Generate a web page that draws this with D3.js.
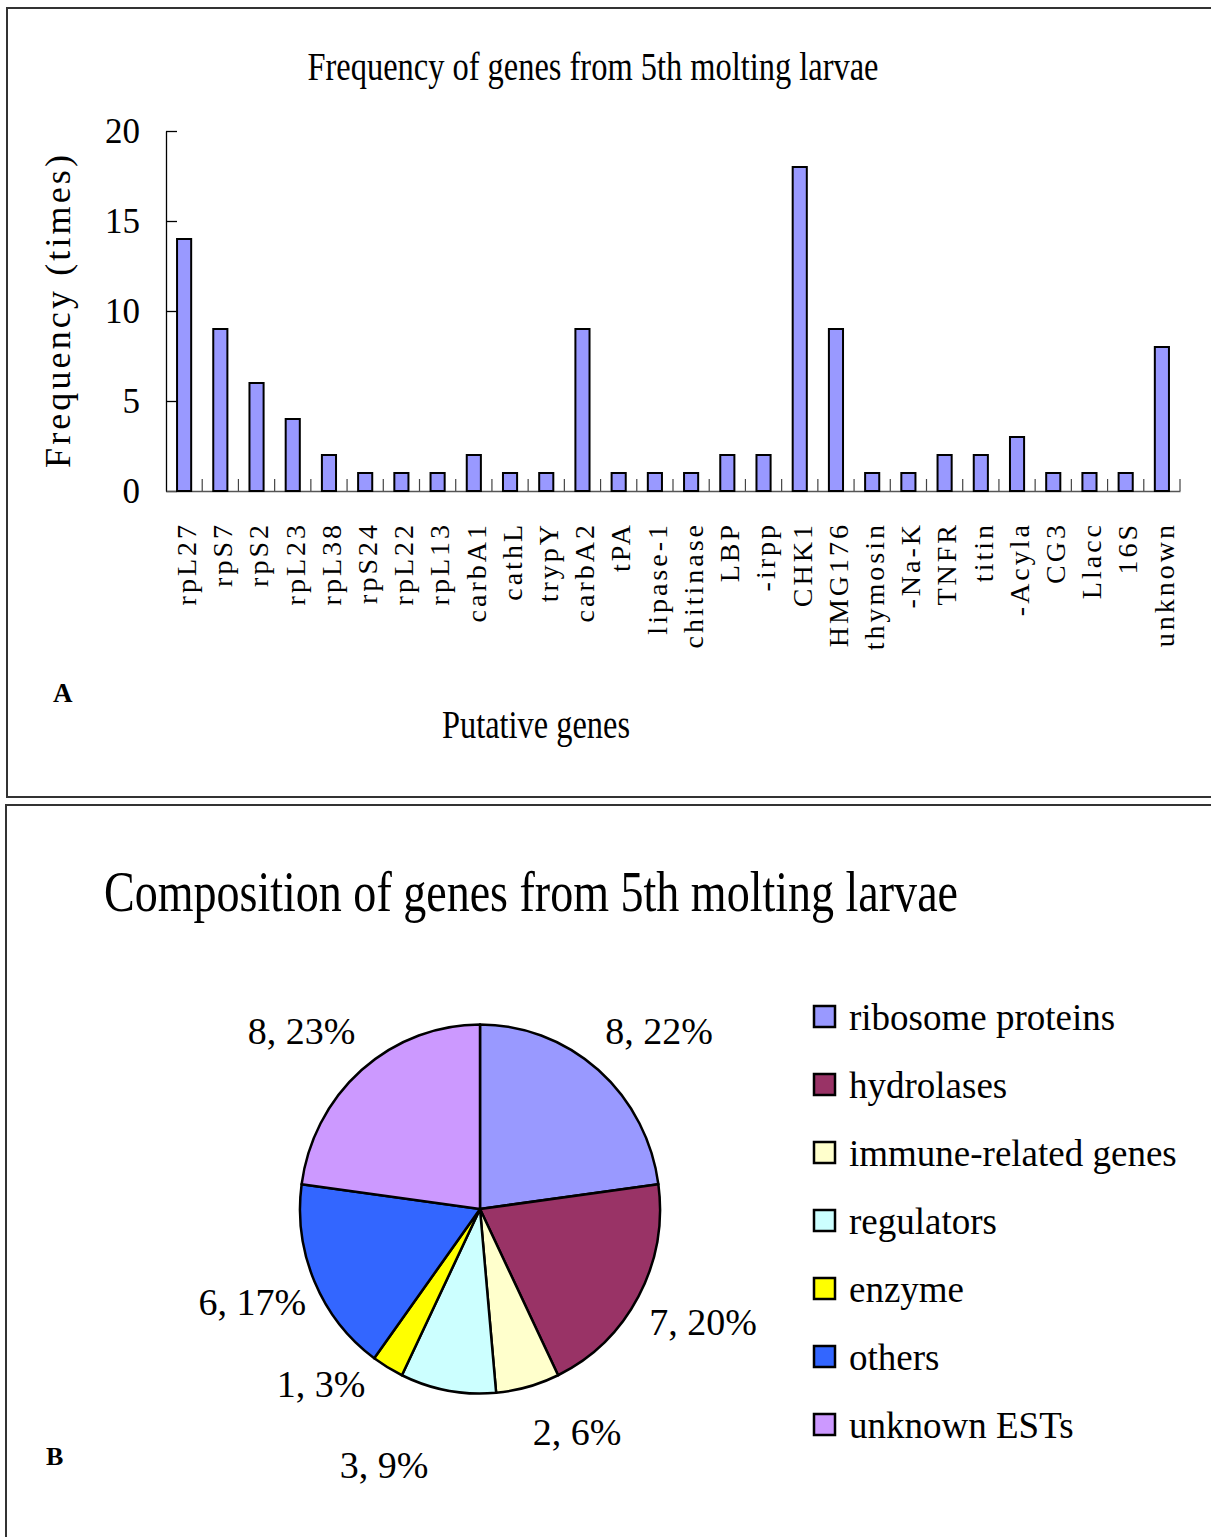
<!DOCTYPE html>
<html>
<head>
<meta charset="utf-8">
<script src="https://cdn.jsdelivr.net/npm/d3@7"></script>
<style>
  html, body { margin: 0; padding: 0; background: #fff; }
  svg { display: block; }
  text { font-family: "Liberation Serif", "Times New Roman", serif; fill: #000; }
</style>
</head>
<body>
<script>
// ---- Panel A: frequency of each putative gene ----
const genes = ["rpL27", "rpS7", "rpS2", "rpL23", "rpL38", "rpS24", "rpL22", "rpL13",
  "carbA1", "cathL", "trypY", "carbA2", "tPA", "lipase-1", "chitinase", "LBP", "-irpp",
  "CHK1", "HMG176", "thymosin", "-Na-K", "TNFR", "titin", "-Acyla", "CG3", "Llacc", "16S", "unknown"];
const geneLabels = ["rpL27", "rpS7", "rpS2", "rpL23", "rpL38", "rpS24", "rpL22", "rpL13",
  "carbA1", "cathL", "trypY", "carbA2", "tPA", "lipase-1", "chitinase", "LBP", "-irpp",
  "CHK1", "HMG176", "thymosin", "-Na-K", "TNFR", "titin", "-Acyla", "CG3", "Llacc", "16S", "unknown"];
const frequencies = [14, 9, 6, 4, 2, 1, 1, 1, 2, 1, 1, 9, 1, 1, 1, 2, 2, 18, 9, 1, 1, 2, 2, 3, 1, 1, 1, 8];
const yTickValues = [0, 5, 10, 15, 20];

// ---- Panel B: composition by functional group ----
const groups = ["ribosome proteins", "hydrolases", "immune-related genes", "regulators", "enzyme", "others", "unknown ESTs"];
const groupCounts = [8, 7, 2, 3, 1, 6, 8];
const groupLabels = ["8, 22%", "7, 20%", "2, 6%", "3, 9%", "1, 3%", "6, 17%", "8, 23%"];
const groupColors = ["#9999FF", "#993366", "#FFFFCC", "#CCFFFF", "#FFFF00", "#3366FF", "#CC99FF"];

const W = 1211, H = 1537;
const svg = d3.select("body").append("svg").attr("width", W).attr("height", H);

// panel frames
svg.append("path").attr("d", "M1211,8H7V797H1211")
  .attr("fill", "none").attr("stroke", "#333").attr("stroke-width", 2);
svg.append("path").attr("d", "M1211,805H6V1537")
  .attr("fill", "none").attr("stroke", "#333").attr("stroke-width", 2);

// ================= Panel A =================
const x = d3.scaleBand().domain(genes).range([166, 1180]).padding(0);
const y = d3.scaleLinear().domain([0, 20]).range([491, 131]);
const barW = x.bandwidth() * 0.39;

svg.append("text")
  .attr("x", 593).attr("y", 80)
  .attr("text-anchor", "middle")
  .attr("font-size", 40)
  .attr("textLength", 571).attr("lengthAdjust", "spacingAndGlyphs")
  .text("Frequency of genes from 5th molting larvae");

// y axis, ticks pointing inward
const yAxis = svg.append("g").attr("transform", `translate(${x.range()[0]},0)`)
  .call(d3.axisLeft(y).tickValues(yTickValues).tickSizeInner(-11).tickSizeOuter(0).tickPadding(26));
yAxis.selectAll("path.domain").attr("stroke", "#000").attr("stroke-width", 1.3);
yAxis.selectAll(".tick line").attr("stroke", "#000").attr("stroke-width", 1.3);
yAxis.selectAll("text")
  .attr("font-family", "'Liberation Serif', 'Times New Roman', serif")
  .attr("font-size", 35).attr("dy", "0.34em");

// x axis with rotated gene names
const xAxis = svg.append("g").attr("transform", `translate(0,${y(0)})`)
  .call(d3.axisBottom(x).tickSize(0).tickSizeOuter(0).tickFormat((d, i) => geneLabels[i]));
xAxis.selectAll("path.domain").attr("stroke", "#555").attr("stroke-width", 1.3);
xAxis.selectAll("text")
  .attr("font-family", "'Liberation Serif', 'Times New Roman', serif")
  .attr("font-size", 28)
  .attr("letter-spacing", "3px")
  .attr("transform", "rotate(-90)")
  .attr("text-anchor", "end")
  .attr("x", -31).attr("y", 2).attr("dy", "0.35em");

// category divider ticks along the baseline
svg.append("g").selectAll("line")
  .data(d3.range(1, genes.length + 1))
  .join("line")
  .attr("x1", i => x.range()[0] + i * x.step())
  .attr("x2", i => x.range()[0] + i * x.step())
  .attr("y1", y(0) - 12).attr("y2", y(0))
  .attr("stroke", "#444").attr("stroke-width", 1.2);

// bars
svg.append("g").selectAll("rect")
  .data(genes.map((g, i) => ({ g, v: frequencies[i] })))
  .join("rect")
  .attr("x", d => x(d.g) + (x.bandwidth() - barW) / 2)
  .attr("y", d => y(d.v))
  .attr("width", barW)
  .attr("height", d => y(0) - y(d.v))
  .attr("fill", "#9999FF")
  .attr("stroke", "#000").attr("stroke-width", 2);

// y axis title
svg.append("text")
  .attr("transform", "translate(70,468) rotate(-90)")
  .attr("text-anchor", "start")
  .attr("font-size", 36)
  .attr("textLength", 313).attr("lengthAdjust", "spacing")
  .text("Frequency (times)");

// x axis title
svg.append("text")
  .attr("x", 536).attr("y", 738)
  .attr("text-anchor", "middle")
  .attr("font-size", 39)
  .attr("textLength", 188).attr("lengthAdjust", "spacingAndGlyphs")
  .text("Putative genes");

svg.append("text")
  .attr("x", 53).attr("y", 702)
  .attr("font-size", 27).attr("font-weight", "bold")
  .text("A");

// ================= Panel B =================
svg.append("text")
  .attr("x", 531).attr("y", 911)
  .attr("text-anchor", "middle")
  .attr("font-size", 58)
  .attr("textLength", 854).attr("lengthAdjust", "spacingAndGlyphs")
  .text("Composition of genes from 5th molting larvae");

const pieData = d3.pie().sort(null).value(d => d.v)(
  groups.map((g, i) => ({ g, v: groupCounts[i], label: groupLabels[i], color: groupColors[i] }))
);
const radius = 180;
const arc = d3.arc().innerRadius(0).outerRadius(radius);

const pieG = svg.append("g").attr("transform", "translate(480,1209)");
pieG.append("g").attr("transform", "scale(1,1.025)")
  .selectAll("path")
  .data(pieData)
  .join("path")
  .attr("d", arc)
  .attr("fill", d => d.data.color)
  .attr("stroke", "#000").attr("stroke-width", 2.5).attr("stroke-linejoin", "round");

// label placement: angle offset (degrees) from slice middle and distance from centre
const labelPlacement = {
  "ribosome proteins": { da: 3.9, r: 253 },
  "hydrolases": { da: -1.4, r: 250 },
  "immune-related genes": { da: -8.1, r: 243 },
  "regulators": { da: 10.3, r: 273 },
  "enzyme": { da: 11.5, r: 236 },
  "others": { da: 0.9, r: 246 },
  "unknown ESTs": { da: -3.9, r: 252 }
};
pieG.append("g").selectAll("text")
  .data(pieData)
  .join("text")
  .attr("transform", d => {
    const p = labelPlacement[d.data.g];
    const a = (d.startAngle + d.endAngle) / 2 + p.da * Math.PI / 180;
    return `translate(${p.r * Math.sin(a)},${-p.r * Math.cos(a)})`;
  })
  .attr("text-anchor", "middle")
  .attr("dy", "0.35em")
  .attr("font-size", 38)
  .text(d => d.data.label);

// legend
const ly = d3.scalePoint().domain(groups).range([1017, 1425]);
const legend = svg.append("g").selectAll("g")
  .data(groups.map((g, i) => ({ g, color: groupColors[i] })))
  .join("g")
  .attr("transform", d => `translate(814,${ly(d.g)})`);
legend.append("rect")
  .attr("x", 0).attr("y", -11).attr("width", 21).attr("height", 21)
  .attr("fill", d => d.color)
  .attr("stroke", "#000").attr("stroke-width", 2.5);
legend.append("text")
  .attr("x", 35).attr("dy", "0.34em")
  .attr("font-size", 37)
  .text(d => d.g);

svg.append("text")
  .attr("x", 46).attr("y", 1465)
  .attr("font-size", 26).attr("font-weight", "bold")
  .text("B");
</script>
</body>
</html>
